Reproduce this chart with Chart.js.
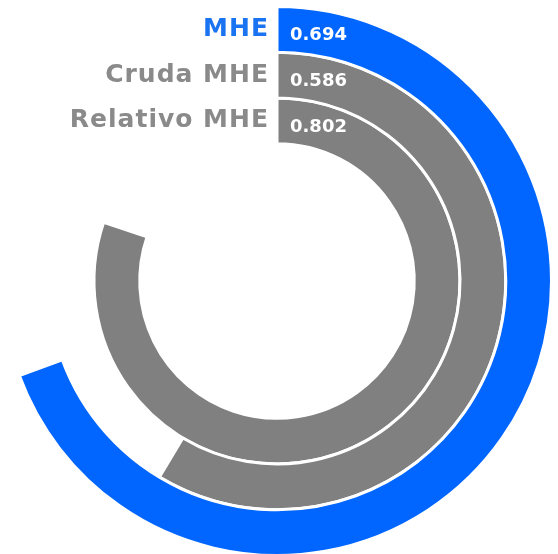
<!DOCTYPE html>
<html>
<head>
<meta charset="utf-8">
<script src="https://cdn.jsdelivr.net/npm/chart.js@4"></script>
<style>
  html, body { margin: 0; padding: 0; background: #fff; overflow: hidden; }
  #wrap { width: 558px; height: 560px; position: relative; }
</style>
</head>
<body>
<div id="wrap"><canvas id="radialChart"></canvas></div>
<script>
const labels = ['MHE', 'Cruda MHE', 'Relativo MHE'];
const values = [0.694, 0.586, 0.802];
const colors = ['#0066ff', '#808080', '#808080'];
const labelColors = ['#1a73f0', '#8a8a8a', '#8a8a8a'];

const ctx = document.getElementById('radialChart').getContext('2d');

// labels on the left of the start line, values inside the ring start
const ringLabels = {
    id: 'ringLabels',
    afterDatasetsDraw(chart) {
        const c = chart.ctx;
        c.save();
        chart.data.datasets.forEach((ds, i) => {
            const arc = chart.getDatasetMeta(i).data[0];
            const r = (arc.innerRadius + arc.outerRadius) / 2;
            const y = arc.y - r;
            c.textBaseline = 'middle';
            c.font = 'bold 25px "DejaVu Sans", Verdana, sans-serif';
            c.letterSpacing = '1px';
            c.fillStyle = labelColors[i];
            c.textAlign = 'right';
            c.fillText(labels[i], arc.x - 8, y);
            c.font = 'bold 18px "DejaVu Sans", Verdana, sans-serif';
            c.letterSpacing = '0px';
            c.fillStyle = '#fff';
            c.textAlign = 'left';
            c.fillText(values[i].toFixed(3), arc.x + 13, y + 6);
        });
        c.restore();
    }
};

new Chart(ctx, {
    type: 'doughnut',
    data: {
        labels: ['value', 'rest'],
        datasets: values.map((v, i) => ({
            label: labels[i],
            data: [v, 1 - v],
            backgroundColor: [colors[i], 'rgba(0,0,0,0)'],
            borderColor: ['#ffffff', 'rgba(0,0,0,0)'],
            borderWidth: [3, 0]
        }))
    },
    options: {
        responsive: true,
        maintainAspectRatio: false,
        animation: false,
        cutout: '50%',
        layout: { padding: { top: 5, bottom: 3, left: 1, right: 5 } },
        plugins: {
            legend: { display: false },
            tooltip: { enabled: false }
        }
    },
    plugins: [ringLabels]
});
</script>
</body>
</html>
